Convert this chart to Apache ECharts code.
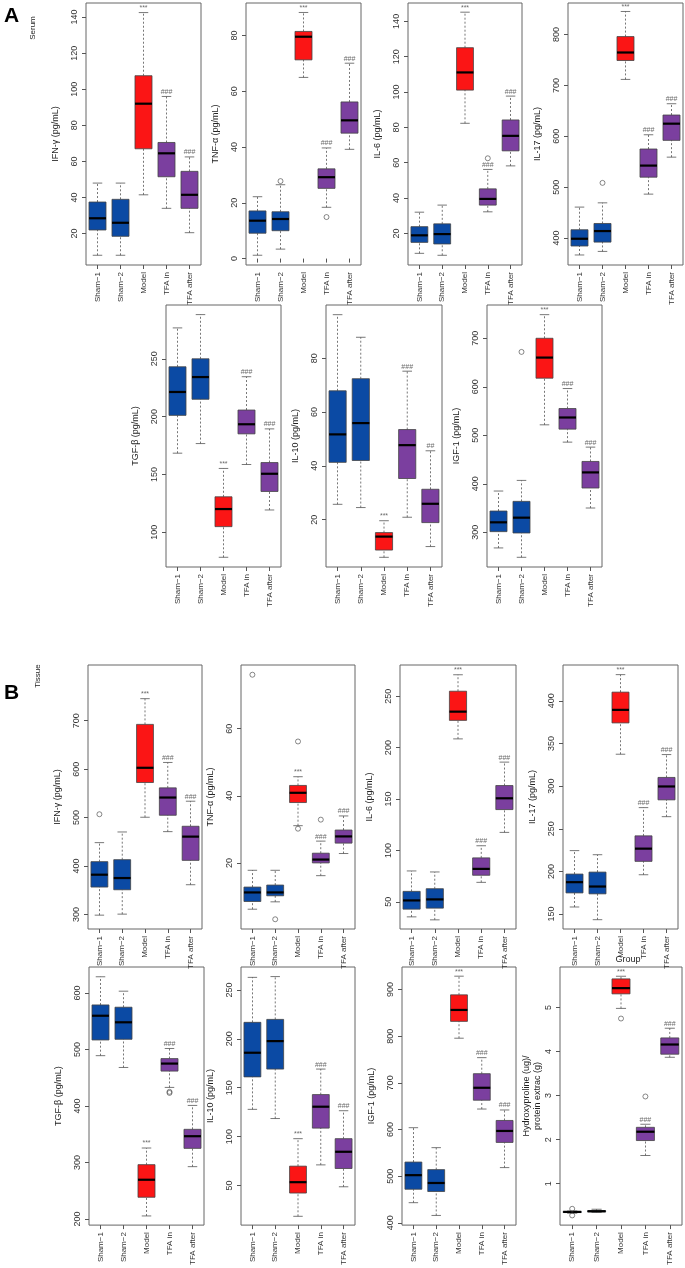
<!DOCTYPE html>
<html lang="en">
<head>
<meta charset="UTF-8">
<title>Serum and tissue boxplots</title>
<script src="https://cdn.jsdelivr.net/npm/echarts@6.0.0/dist/echarts.min.js"></script>
<style>
  html, body { margin: 0; padding: 0; background: #fff; }
  #container { width: 685px; height: 1268px; }
</style>
</head>
<body>
<div id="container"></div>
<script>
var groups = ['Sham\u22121', 'Sham\u22122', 'Model', 'TFA in', 'TFA after'];

// each group: [low whisker, Q1, median, Q3, high whisker]
var serumIFN = [[8, 22, 28.5, 37.5, 48], [8, 18.5, 26, 39, 48], [41.5, 67, 92, 107.5, 142.5], [34, 51.5, 64.5, 70.5, 96], [20.5, 34, 41.5, 54.5, 62.5]];
var serumTNF = [[1.2, 9.1, 13.6, 17.1, 22.2], [3.4, 10, 14.2, 16.8, 26.5], [65, 71.3, 79.6, 81.5, 88.3], [18.4, 25.2, 29.2, 32.2, 39.7], [39.2, 45, 49.6, 56.2, 70.1]];
var serumIL6 = [[8.7, 14.9, 18.9, 23.8, 32], [7.6, 14, 19.6, 25.4, 36], [82.3, 101.1, 111.1, 125.1, 145.2], [32.2, 36, 39.5, 45.2, 56.2], [58.2, 66.7, 75.2, 84.2, 97.7]];
var serumIL17 = [[366.7, 384.3, 398.6, 416.3, 460.8], [373.7, 392, 413.7, 428.6, 469.2], [711.8, 749, 764.7, 796, 845.3], [486.3, 519.6, 542.4, 575, 603], [559, 592, 624.8, 641.8, 664]];
var serumTGF = [[168.4, 201.1, 221.3, 243.1, 276.7], [176.7, 215, 234.2, 250, 288.2], [78.4, 104.9, 120.1, 130.7, 155.2], [158.6, 185.1, 193.4, 205.7, 234.5], [119.3, 135.3, 150.6, 160.3, 189.4]];
var serumIL10 = [[25.7, 41.3, 51.7, 67.9, 96.2], [24.5, 42, 55.9, 72.4, 87.8], [6, 8.7, 13.7, 15.2, 19.6], [20.9, 35.3, 47.7, 53.5, 75.2], [10, 18.9, 25.9, 31.3, 45.6]];
var serumIGF = [[267.8, 301.4, 320.6, 343.9, 385.1], [248.5, 298.6, 330.2, 363.8, 407], [521.6, 617.7, 660.2, 700, 748.7], [485.9, 512.7, 536.7, 555.2, 596.4], [350.1, 391.3, 423.5, 446.1, 475.6]];

var tissueIFN = [[298.6, 356.6, 382.1, 409, 448.3], [300.7, 351, 375.2, 413.1, 470.3], [500.7, 572.4, 602.8, 692.4, 745.5], [471, 504.8, 541.4, 561.4, 613.8], [361.4, 411.7, 460.7, 482.1, 533.8]];
var tissueTNF = [[6.2, 8.5, 11.2, 12.8, 17.8], [8.4, 10.2, 11.2, 13.4, 17.8], [31.1, 38, 40.9, 43.1, 45.7], [16.2, 20, 21, 22.9, 26.5], [22.8, 25.9, 27.9, 29.8, 34]];
var tissueIL6 = [[35.3, 42.8, 51.3, 60.1, 80], [32.4, 43.8, 52.3, 62.7, 79], [208.5, 226.5, 235, 254.9, 270.9], [68.9, 75.8, 82, 92.7, 104.5], [117.5, 139.7, 150.7, 163.1, 185.9]];
var tissueIL17 = [[158.3, 174.8, 187.4, 196.9, 224.4], [143.4, 173.7, 182.3, 199.2, 219.6], [337.4, 374.1, 389.4, 410.2, 430.7], [196.1, 211.8, 226.7, 241.7, 274.8], [264.2, 283.9, 299.6, 310.2, 337]];
var tissueTGF = [[489, 516.8, 559.7, 578.8, 628.7], [468.1, 518, 548.1, 574.8, 603.2], [205.2, 238.3, 269.3, 296, 325.5], [432.8, 461.7, 475, 483.8, 501.7], [292.5, 324.9, 346.4, 358.6, 400.9]];
var tissueIL10 = [[127.9, 161.1, 185.8, 216.9, 262.9], [118.5, 169.1, 197.7, 219.9, 263.7], [18.5, 42.3, 53.4, 69.8, 97.9], [71.1, 108.7, 130.6, 143, 169.1], [48.7, 67.4, 84.5, 97.9, 126.5]];
var tissueIGF = [[443.1, 471.9, 502.1, 530.2, 603.9], [415.7, 467, 485.3, 514, 561.1], [795.8, 831.9, 856.4, 888.8, 928.8], [643.9, 662.8, 689.5, 719.7, 754.1], [518.3, 572.3, 596.9, 619.4, 641.9]];
var tissueHyp = [[0.33, 0.345, 0.36, 0.37, 0.38], [0.35, 0.36, 0.375, 0.385, 0.42], [4.98, 5.31, 5.44, 5.65, 5.71], [1.64, 1.98, 2.18, 2.28, 2.35], [3.87, 3.94, 4.16, 4.31, 4.53]];

// outliers: [group index, value]
var serumTNFOut = [[1, 27.8], [3, 14.9]];
var serumIL6Out = [[3, 62.5]];
var serumIL17Out = [[1, 508.4]];
var serumIGFOut = [[1, 671.9]];
var tissueIFNOut = [[0, 506.9]];
var tissueTNFOut = [[0, 76.1], [1, 3.2], [2, 56.2], [2, 30.2], [3, 32.9]];
var tissueTGFOut = [[3, 423], [3, 425]];
var tissueHypOut = [[0, 0.43], [0, 0.28], [2, 4.75], [3, 2.98]];

// significance marks over each group
var sigMarks = ['', '', '***', '###', '###'];
var sigMarksIL10 = ['', '', '***', '###', '##'];

// y tick labels
var ticksA1 = [20, 40, 60, 80, 100, 120, 140];
var ticksA2 = [0, 20, 40, 60, 80];
var ticksA4 = [400, 500, 600, 700, 800];
var ticksA5 = [100, 150, 200, 250];
var ticksA6 = [20, 40, 60, 80];
var ticksA7 = [300, 400, 500, 600, 700];
var ticksB2 = [20, 40, 60];
var ticksB3 = [50, 100, 150, 200, 250];
var ticksB4 = [150, 200, 250, 300, 350, 400];
var ticksB5 = [200, 300, 400, 500, 600];
var ticksB7 = [400, 500, 600, 700, 800, 900];
var ticksB8 = [1, 2, 3, 4, 5];

var groupColors = ['#0B4AA4', '#0B4AA4', '#FB1515', '#7B3F9F', '#7B3F9F'];
var font = 'Liberation Sans, Arial, Helvetica, sans-serif';

// panel table: data, axis range and frame [left, top, width, height]
var panels = [
    { stats: serumIFN, out: [], ticks: ticksA1, range: [2.6, 147.8], name: 'IFN-\u03b3 (pg/mL)', sig: sigMarks, frame: [86, 3, 115, 262] },
    { stats: serumTNF, out: serumTNFOut, ticks: ticksA2, range: [-2.3, 91.7], name: 'TNF-\u03b1 (pg/mL)', sig: sigMarks, frame: [246, 3, 115, 262] },
    { stats: serumIL6, out: serumIL6Out, ticks: ticksA1, range: [2.1, 150.4], name: 'IL-6 (pg/mL)', sig: sigMarks, frame: [408, 3, 114, 262] },
    { stats: serumIL17, out: serumIL17Out, ticks: ticksA4, range: [347, 862], name: 'IL-17 (pg/mL)', sig: sigMarks, frame: [568, 3, 115, 262] },
    { stats: serumTGF, out: [], ticks: ticksA5, range: [70, 296.5], name: 'TGF-\u03b2 (pg/mL)', sig: sigMarks, frame: [166, 305, 115, 262] },
    { stats: serumIL10, out: [], ticks: ticksA6, range: [2.4, 99.8], name: 'IL-10 (pg/mL)', sig: sigMarksIL10, frame: [326, 305, 116, 262] },
    { stats: serumIGF, out: serumIGFOut, ticks: ticksA7, range: [228.5, 768.6], name: 'IGF-1 (pg/mL)', sig: sigMarks, frame: [487, 305, 115, 262] },
    { stats: tissueIFN, out: tissueIFNOut, ticks: ticksA7, range: [270, 815], name: 'IFN-\u03b3 (pg/mL)', sig: sigMarks, frame: [88, 665, 114, 264] },
    { stats: tissueTNF, out: tissueTNFOut, ticks: ticksB2, range: [0.3, 79], name: 'TNF-\u03b1 (pg/mL)', sig: sigMarks, frame: [241, 665, 114, 264] },
    { stats: tissueIL6, out: [], ticks: ticksB3, range: [23.5, 280.4], name: 'IL-6 (pg/mL)', sig: sigMarks, frame: [400, 665, 116, 264] },
    { stats: tissueIL17, out: [], ticks: ticksB4, range: [132.5, 442], name: 'IL-17 (pg/mL)', sig: sigMarks, frame: [563, 665, 115, 264] },
    { stats: tissueTGF, out: tissueTGFOut, ticks: ticksB5, range: [189, 646], name: 'TGF-\u03b2 (pg/mL)', sig: sigMarks, frame: [89, 967, 115, 262] },
    { stats: tissueIL10, out: [], ticks: ticksB3, range: [9.5, 273.5], name: 'IL-10 (pg/mL)', sig: sigMarks, frame: [241, 967, 114, 262] },
    { stats: tissueIGF, out: [], ticks: ticksB7, range: [395, 948.5], name: 'IGF-1 (pg/mL)', sig: sigMarks, frame: [402, 967, 114, 262] },
    { stats: tissueHyp, out: tissueHypOut, ticks: ticksB8, range: [0.06, 5.92], name: 'Hydroxyproline (ug)/\nprotein extrac (g)', sig: sigMarks, frame: [560, 967, 122, 262] }
];

function renderBox(params, api) {
    var i = api.value(0);
    var pLow = api.coord([i, api.value(1)]);
    var pQ1 = api.coord([i, api.value(2)]);
    var pMed = api.coord([i, api.value(3)]);
    var pQ3 = api.coord([i, api.value(4)]);
    var pHigh = api.coord([i, api.value(5)]);
    var w = api.size([1, 0])[0] * 0.74;
    var x = pMed[0];
    var cap = w * 0.28;
    var whisker = { stroke: '#555', lineWidth: 0.8, lineDash: [2, 2] };
    var capStyle = { stroke: '#555', lineWidth: 0.8 };
    return {
        type: 'group',
        children: [
            { type: 'line', shape: { x1: x, y1: pLow[1], x2: x, y2: pQ1[1] }, style: whisker },
            { type: 'line', shape: { x1: x, y1: pQ3[1], x2: x, y2: pHigh[1] }, style: whisker },
            { type: 'line', shape: { x1: x - cap, y1: pLow[1], x2: x + cap, y2: pLow[1] }, style: capStyle },
            { type: 'line', shape: { x1: x - cap, y1: pHigh[1], x2: x + cap, y2: pHigh[1] }, style: capStyle },
            { type: 'rect', shape: { x: x - w / 2, y: pQ3[1], width: w, height: pQ1[1] - pQ3[1] },
              style: { fill: groupColors[i], stroke: '#444', lineWidth: 0.8 } },
            { type: 'line', shape: { x1: x - w / 2, y1: pMed[1], x2: x + w / 2, y2: pMed[1] },
              style: { stroke: '#000', lineWidth: 2.2 } }
        ]
    };
}

var grids = [], xAxes = [], yAxes = [], series = [];
panels.forEach(function (p, k) {
    grids.push({
        left: p.frame[0], top: p.frame[1], width: p.frame[2], height: p.frame[3],
        show: true, borderColor: '#666', borderWidth: 1, backgroundColor: 'transparent'
    });
    xAxes.push({
        type: 'category', gridIndex: k, data: groups, boundaryGap: true,
        axisLine: { show: false },
        axisTick: { show: true, alignWithLabel: true, length: 4, lineStyle: { color: '#555' } },
        axisLabel: { rotate: 90, fontSize: 8, color: '#333', margin: 7, fontFamily: font, interval: 0 }
    });
    yAxes.push({
        type: 'value', gridIndex: k, min: p.range[0], max: p.range[1],
        splitLine: { show: false },
        axisLine: { show: false },
        axisTick: { show: true, length: 4, customValues: p.ticks, lineStyle: { color: '#555' } },
        axisLabel: { customValues: p.ticks, rotate: 90, fontSize: 9, color: '#333', margin: 7,
                     fontFamily: font, align: 'center', verticalAlign: 'bottom' },
        name: p.name, nameLocation: 'middle', nameGap: p.name.indexOf('\n') >= 0 ? 16 : 25,
        nameTextStyle: { fontSize: 9, color: '#222', fontFamily: font, lineHeight: 11 }
    });
    series.push({
        type: 'custom', xAxisIndex: k, yAxisIndex: k,
        renderItem: renderBox,
        encode: { x: 0, y: [1, 2, 3, 4, 5] },
        data: p.stats.map(function (s, i) { return [i].concat(s); }),
        silent: true
    });
    series.push({
        type: 'scatter', xAxisIndex: k, yAxisIndex: k,
        symbol: 'circle', symbolSize: 5,
        itemStyle: { color: 'rgba(0,0,0,0)', borderColor: '#444', borderWidth: 0.8 },
        data: p.out, silent: true
    });
    series.push({
        type: 'scatter', xAxisIndex: k, yAxisIndex: k,
        symbolSize: 0,
        data: p.stats.map(function (s, i) { return [i, s[4], p.sig[i]]; }),
        label: {
            show: true, position: 'top', distance: 1, fontSize: 7, color: '#444', fontFamily: font,
            formatter: function (d) { return d.data[2]; }
        },
        silent: true
    });
});

var myChart = echarts.init(document.getElementById('container'), null, { renderer: 'canvas' });
myChart.setOption({
    animation: false,
    backgroundColor: '#fff',
    grid: grids,
    xAxis: xAxes,
    yAxis: yAxes,
    series: series,
    graphic: [
        { type: 'text', left: 4, top: 6, style: { text: 'A', fontSize: 21, fontWeight: 'bold', fill: '#000', fontFamily: font } },
        { type: 'text', x: 33, y: 28, rotation: Math.PI / 2, style: { text: 'Serum', fontSize: 8, fill: '#222', fontFamily: font, align: 'center', verticalAlign: 'middle' } },
        { type: 'text', left: 4, top: 683, style: { text: 'B', fontSize: 21, fontWeight: 'bold', fill: '#000', fontFamily: font } },
        { type: 'text', x: 38, y: 676, rotation: Math.PI / 2, style: { text: 'Tissue', fontSize: 8, fill: '#222', fontFamily: font, align: 'center', verticalAlign: 'middle' } },
        { type: 'text', x: 628, y: 960, style: { text: 'Group', fontSize: 9, fill: '#222', fontFamily: font, align: 'center', verticalAlign: 'middle' } }
    ]
});
window.addEventListener('resize', myChart.resize);
</script>
</body>
</html>
